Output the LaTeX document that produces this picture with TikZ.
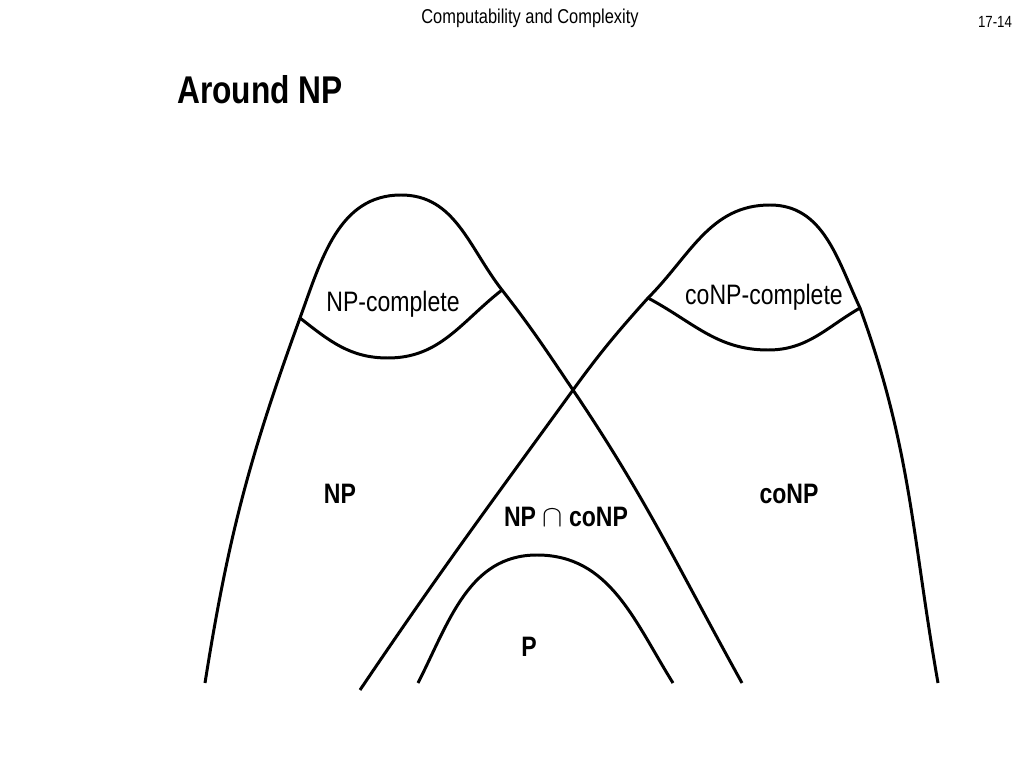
\documentclass[tikz,border=0pt]{standalone}
\usepackage{fontspec}
\setmainfont{Liberation Sans}[FakeStretch=0.82]
\begin{document}
\begin{tikzpicture}[x=.02cm,y=.02cm,line width=1.7pt,
  lbl/.style={font=\bfseries\fontsize{16}{18}\selectfont},
  reg/.style={font=\fontsize{16}{18}\selectfont}]
\useasboundingbox(0,0)rectangle(1024,768);
\node[font=\fontsize{11.4}{14}\selectfont](hd)at(530,750){Computability and Complexity};
\node[font=\fontsize{9.2}{11}\selectfont](pg)at(995,746){17-14};
\node[font=\bfseries\fontsize{22}{26}\selectfont,anchor=west](ttl)at(170,678){Around NP};
% points where the curves meet
\coordinate(a)at(300,450);\coordinate(b)at(502,478);\coordinate(x)at(573,378);
\coordinate(c)at(648,470);\coordinate(d)at(860,460);
\draw(205,85)to[out=81,in=-110](a)to[out=70,in=180](401,573)to[out=0,in=128](b)to[out=-52,in=124](x)to[out=-56,in=119](742,85);
\draw(360,78)to[out=56,in=-126](x)to[out=54,in=-132](c)to[out=45,in=180](770,563)to[out=0,in=115](d)to[out=-70,in=100](938,85);
\draw(a)to[out=-38,in=180](388,410)to[out=0,in=-142](b);
\draw(c)to[out=-28,in=180](768,418)to[out=0,in=-150](d);
\draw(418,85)to[out=63,in=180](537,213)to[out=0,in=122](673,85);
\node[reg](npc)at(393,464){NP-complete};
\node[reg](conpc)at(764,471){coNP-complete};
\node[lbl](np)at(340,274){NP};
\node[lbl](conp)at(789,274){coNP};
\node[lbl](both)at(566,251){NP $\cap$ coNP};
\node[lbl](p)at(529,121){P};
\end{tikzpicture}
\end{document}
